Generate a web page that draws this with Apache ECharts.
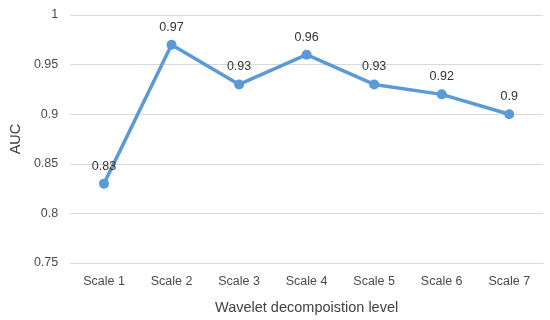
<!DOCTYPE html>
<html><head><meta charset="utf-8">
<script src="https://cdn.jsdelivr.net/npm/echarts@6/dist/echarts.min.js"></script>
<style>html,body{margin:0;padding:0;background:#fff}#c{width:550px;height:320px}</style>
</head><body><div id="c"></div>
<script>
const categories = ['Scale 1','Scale 2','Scale 3','Scale 4','Scale 5','Scale 6','Scale 7'];
const aucValues = [0.83, 0.97, 0.93, 0.96, 0.93, 0.92, 0.90];
const yTicks = [0.75, 0.8, 0.85, 0.9, 0.95, 1];
const xTitle = 'Wavelet decompoistion level';
const yTitle = 'AUC';

const font = '"Liberation Sans", "Open Sans", sans-serif';
const chart = echarts.init(document.getElementById('c'), null, {renderer: 'canvas'});
chart.setOption({
  animation: false,
  grid: {left: 66, right: 7, top: 15, bottom: 55},
  xAxis: {
    type: 'category', data: categories, boundaryGap: true,
    axisLine: {show: true, lineStyle: {color: '#d9d9d9', width: 1}},
    axisTick: {show: false},
    axisLabel: {color: '#4a4a4a', fontSize: 12.5, fontFamily: font, margin: 12},
    name: xTitle, nameLocation: 'middle', nameGap: 37,
    nameTextStyle: {color: '#404040', fontSize: 14.5, fontFamily: font}
  },
  yAxis: {
    type: 'value', min: yTicks[0], max: yTicks[yTicks.length-1], interval: 0.05,
    axisLine: {show: false}, axisTick: {show: false},
    splitLine: {lineStyle: {color: '#d9d9d9', width: 1}},
    axisLabel: {color: '#4a4a4a', fontSize: 12.5, fontFamily: font, margin: 12,
      formatter: v => String(Math.round(v*100)/100)},
    name: yTitle, nameLocation: 'middle', nameGap: 45, nameRotate: 90,
    nameTextStyle: {color: '#404040', fontSize: 14.5, fontFamily: font}
  },
  series: [{
    type: 'line', data: aucValues,
    lineStyle: {color: '#5b9bd5', width: 3.5},
    itemStyle: {color: '#5b9bd5'},
    symbol: 'circle', symbolSize: 10,
    label: {show: true, position: 'top', distance: 6, color: '#333333', fontSize: 12.5, fontFamily: font,
      formatter: p => String(p.value)}
  }]
});
</script></body></html>
